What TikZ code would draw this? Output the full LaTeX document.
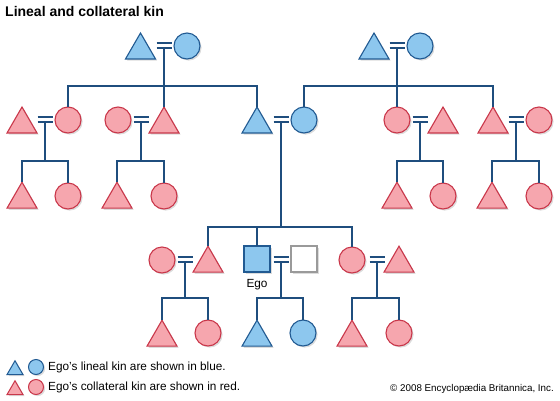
\documentclass[tikz,border=0pt]{standalone}
\usepackage{fontspec}
\setmainfont{Liberation Sans}
\usetikzlibrary{shapes.geometric,positioning,shadows}
\definecolor{tieline}{HTML}{1F4E7E}
\definecolor{linfill}{HTML}{8DC7EE}
\definecolor{lindraw}{HTML}{215A92}
\definecolor{colfill}{HTML}{F6A6AE}
\definecolor{coldraw}{HTML}{C9374A}
\definecolor{wedgrey}{HTML}{9A9A9A}
\tikzset{
  kinshadow/.style={drop shadow={shadow xshift=1.6pt, shadow yshift=-1.6pt,
              fill=black!45, opacity=.3}},
  male/.style={regular polygon, regular polygon sides=3, minimum size=34.6pt,
              inner sep=0pt, outer sep=0pt, line width=1.1pt, kinshadow},
  female/.style={circle, minimum size=26pt, inner sep=0pt, outer sep=0pt,
              line width=1.1pt, kinshadow},
  egobox/.style={rectangle, minimum size=26pt, inner sep=0pt, outer sep=0pt,
              line width=1.1pt, kinshadow},
  lineal/.style={fill=linfill, draw=lindraw},
  collat/.style={fill=colfill, draw=coldraw},
  inlaw/.style={fill=white, draw=wedgrey, line width=1.5pt},
  keymale/.style={male, minimum size=18.5pt, line width=1pt},
  keyfemale/.style={female, minimum size=15pt, line width=1pt},
  kin/.style={draw=tieline, line width=1.3pt},
  keytxt/.style={font=\fontsize{11.8}{13}\selectfont, inner sep=0pt},
}

\begin{document}
\begin{tikzpicture}[x=1pt, y=-1pt]
\useasboundingbox (0,0) rectangle (560,400);

\node[anchor=base west, inner sep=0pt, font=\fontsize{14}{16}\selectfont\bfseries]
  (title) at (5,16) {Lineal and collateral kin};

% --- grandparents -------------------------------------------------------
\node[male, lineal] (pgf) at (140.5,50.3) {};
\node[female, lineal] (pgm) at (187,46) {};
\coordinate (w-pg) at (164,45.5);
\node[male, lineal] (mgf) at (374,50.3) {};
\node[female, lineal] (mgm) at (420,46) {};
\coordinate (w-mg) at (397,45.5);

% --- parents' generation ------------------------------------------------
\node[male, collat] (pa-sp) at (22,124.3) {};
\node[female, collat] (pa) at (68,120) {};
\coordinate (w-pa) at (45,119.5);
\node[female, collat] (pu-sp) at (118,120) {};
\node[male, collat] (pu) at (164,124.3) {};
\coordinate (w-pu) at (141,119.5);
\node[male, lineal] (fa) at (257,124.3) {};
\node[female, lineal] (mo) at (304,120) {};
\coordinate (w-par) at (281,119.5);
\node[female, collat] (ma) at (397,120) {};
\node[male, collat] (ma-sp) at (443,124.3) {};
\coordinate (w-ma) at (420,119.5);
\node[male, collat] (mu) at (493,124.3) {};
\node[female, collat] (mu-sp) at (539,120) {};
\coordinate (w-mu) at (516,119.5);

\coordinate (b-pg) at (164,86);
\coordinate (b-mg) at (397,86);
\draw[kin] ([yshift=-2.5pt]w-pg) -- (b-pg) -- (pu.corner 1);
\draw[kin] (pa.north) -- (pa.north |- b-pg) -- (fa.corner 1 |- b-pg) -- (fa.corner 1);
\draw[kin] ([yshift=-2.5pt]w-mg) -- (b-mg) -- (ma.north);
\draw[kin] (mo.north) -- (mo.north |- b-mg) -- (mu.corner 1 |- b-mg) -- (mu.corner 1);

% --- cousins ------------------------------------------------------------
\node[male, collat] (c1) at (22,199.5) {};
\node[female, collat] (c2) at (68,196) {};
\node[male, collat] (c3) at (117,199.5) {};
\node[female, collat] (c4) at (164,196) {};
\node[male, collat] (c5) at (397,199.5) {};
\node[female, collat] (c6) at (443,196) {};
\node[male, collat] (c7) at (492,199.5) {};
\node[female, collat] (c8) at (539,196) {};

\foreach \w/\l/\r in {w-pa/c1/c2, w-pu/c3/c4, w-ma/c5/c6, w-mu/c7/c8}
  \draw[kin] ([yshift=-2.5pt]\w) -- (\w |- 0,161)
    (\l.corner 1) -- (\l.corner 1 |- 0,161) -- (\r.north |- 0,161) -- (\r.north);

% --- Ego's generation ---------------------------------------------------
\node[female, collat] (br-sp) at (162,260) {};
\node[male, collat] (br) at (208,263.5) {};
\coordinate (w-br) at (185,259.5);
\node[egobox, lineal] (ego) at (257,259) {};
\node[egobox, inlaw] (ego-sp) at (304,259) {};
\coordinate (w-ego) at (281,259.5);
\node[female, collat] (si) at (352,260) {};
\node[male, collat] (si-sp) at (399,263.5) {};
\coordinate (w-si) at (377,259.5);
\node[anchor=base, inner sep=0pt, font=\fontsize{11.8}{13}\selectfont]
  (egolbl) at (257,287) {Ego};

\coordinate (b-par) at (281,227);
\draw[kin] ([yshift=-2.5pt]w-par) -- (b-par);
\draw[kin] (br.corner 1) -- (br.corner 1 |- b-par) -- (si.north |- b-par) -- (si.north);
\draw[kin] (ego.north |- b-par) -- (ego.north);

% --- children -----------------------------------------------------------
\node[male, collat] (n1) at (162,337.5) {};
\node[female, collat] (n2) at (208,333) {};
\node[male, lineal] (k1) at (257,337.5) {};
\node[female, lineal] (k2) at (303,333) {};
\node[male, collat] (n3) at (352,337.5) {};
\node[female, collat] (n4) at (399,333) {};

\foreach \w/\l/\r in {w-br/n1/n2, w-ego/k1/k2, w-si/n3/n4}
  \draw[kin] ([yshift=-2.5pt]\w) -- (\w |- 0,298)
    (\l.corner 1) -- (\l.corner 1 |- 0,298) -- (\r.north |- 0,298) -- (\r.north);

% --- marriage marks -----------------------------------------------------
\foreach \w in {w-pg, w-mg, w-pa, w-pu, w-par, w-ma, w-mu, w-br, w-ego, w-si}
  \draw[kin] ([shift={(-7.5,-2.5)}]\w) -- ++(15,0)
             ([shift={(-7.5,2.5)}]\w) -- ++(15,0);

% --- key ----------------------------------------------------------------
\node[keymale, lineal] (km1) at (15,370) {};
\node[keyfemale, lineal] (kf1) at (36,367) {};
\node[keytxt, right=4.5pt of kf1] (kt1) {Ego's lineal kin are shown in blue.};
\node[keymale, collat] (km2) at (15,390) {};
\node[keyfemale, collat] (kf2) at (36,387) {};
\node[keytxt, right=4.5pt of kf2] (kt2) {Ego's collateral kin are shown in red.};
\node[anchor=base east, inner sep=0pt, font=\fontsize{9.8}{11}\selectfont]
  (copy) at (554,391) {© 2008 Encyclopædia Britannica, Inc.};
\end{tikzpicture}
\end{document}
